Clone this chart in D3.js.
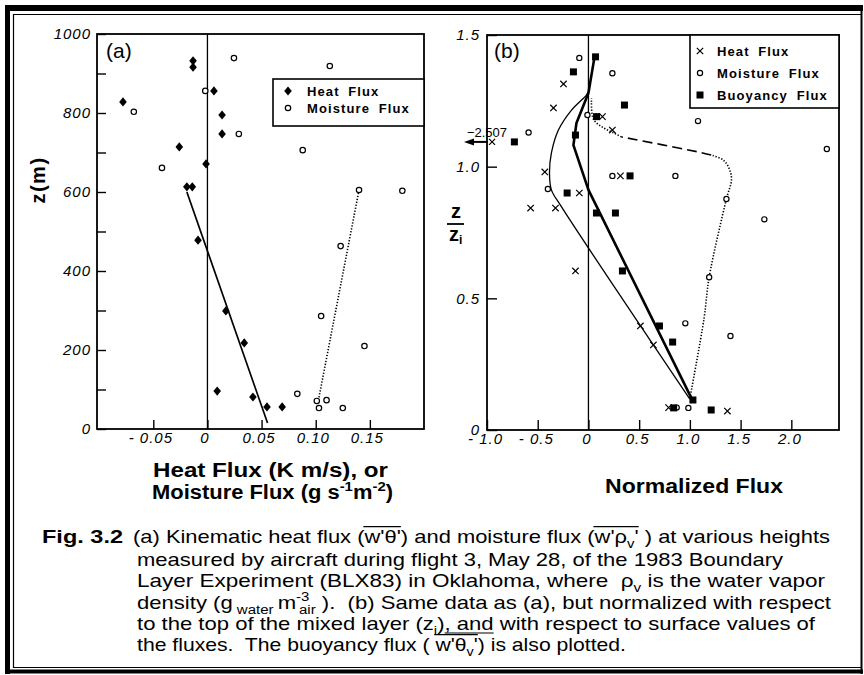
<!DOCTYPE html>
<html><head><meta charset="utf-8">
<script src="https://cdn.jsdelivr.net/npm/d3@7/dist/d3.min.js"></script>
<style>
body{margin:0;background:#fff;}
svg{display:block;font-family:"Liberation Sans",Arial,Helvetica,sans-serif;}
text{white-space:pre;}
</style></head><body>
<svg id="fig" width="864" height="675"></svg>
<script>
// ---- panel (a): raw fluxes vs height z (m)
const heatA = [
  [-0.0133,932],[-0.0133,916],[-0.078,828],[0.006,856],[0.0135,795],[0.0135,747],
  [-0.026,714],[-0.0013,671],[-0.019,613],[-0.014,613],[-0.0087,478],[0.017,299],
  [0.034,218],[0.009,96],[0.042,81],[0.055,56],[0.069,56]
];
const moistA = [
  [0.0245,939],[0.113,919],[-0.002,856],[-0.068,803],[0.029,747],[0.088,706],
  [-0.042,661],[0.14,605],[0.18,603],[0.123,463],[0.105,286],[0.145,210],
  [0.083,89],[0.101,71],[0.103,53],[0.11,73],[0.125,53]
];
const heatFitA  = [[-0.019,600],[0.0555,15]];
const moistFitA = [[0.103,80],[0.14,605]];
const zTicksA   = [0,100,200,300,400,500,600,700,800,900,1000];
const xTicksA   = [-0.05,0,0.05,0.10,0.15];
const xLabelsA  = ["- 0.05","0","0.05","0.10","0.15"];

// ---- panel (b): normalized flux vs z/zi
const heatB = [
  [-0.246,1.314],[-0.345,1.223],[0.138,1.19],[0.236,1.139],[-0.43,0.98],[0.315,0.965],
  [-0.09,0.90],[-0.57,0.843],[-0.325,0.843],[-0.128,0.604],[0.512,0.395],[0.64,0.323],
  [0.79,0.085],[1.37,0.072]
];
const heatOutlierB = {value:-2.507, z:1.094};
const moistB = [
  [-0.09,1.413],[0.236,1.355],[-0.01,1.196],[1.08,1.173],[-0.59,1.13],[2.35,1.067],
  [0.236,0.965],[0.857,0.965],[-0.40,0.915],[1.36,0.877],[1.734,0.80],[1.19,0.58],
  [0.955,0.405],[1.40,0.357],[0.87,0.085],[0.985,0.084]
];
const buoyB = [
  [0.07,1.417],[-0.148,1.36],[0.355,1.234],[0.08,1.19],[-0.128,1.12],[-0.73,1.094],
  [0.41,0.965],[-0.21,0.90],[0.079,0.824],[0.266,0.824],[0.335,0.604],[0.70,0.395],
  [0.83,0.334],[1.03,0.114],[0.84,0.084],[1.21,0.076]
];
const heatCurveB = [
  [1.0,0.117],[-0.27,0.85],[-0.365,0.912],[-0.384,0.976],[-0.365,1.052],
  [-0.296,1.139],[-0.167,1.215],[-0.02,1.272],[0.0,1.285]
];
const buoyCurveB = [
  [1.02,0.117],[0.0,0.912],[-0.148,1.082],[-0.118,1.166],[0.0,1.28],[0.06,1.417]
];
const moistDot1B = [
  [1.0,0.12],[1.14,0.425],[1.19,0.58],[1.36,0.877],[1.41,0.95],[1.39,0.99],[1.33,1.025],[1.21,1.044]
];
const moistDashB = [[1.21,1.044],[1.08,1.056],[0.325,1.113]];
const moistDot2B = [[0.325,1.113],[0.25,1.128],[0.15,1.147],[0.05,1.18],[0.03,1.26]];
const zTicksB   = [0,0.5,1.0,1.5];
const zLabelsB  = ["0","0.5","1.0","1.5"];
const xTicksB   = [-1.0,-0.5,0,0.5,1.0,1.5,2.0];
const xLabelsB  = ["- 1.0","- 0.5","0","0.5","1.0","1.5","2.0"];

const svg = d3.select("#fig");
svg.append("rect").attr("width",864).attr("height",675).attr("fill","#fff");

// outer frame
const frame = svg.append("g").attr("stroke","#000").attr("fill","none");
frame.append("line").attr("x1",7.5).attr("x2",7.5).attr("y1",5).attr("y2",674).attr("stroke-width",5);
frame.append("line").attr("x1",5).attr("x2",863).attr("y1",8).attr("y2",8).attr("stroke-width",6);
frame.append("line").attr("x1",5).attr("x2",863).attr("y1",671.5).attr("y2",671.5).attr("stroke-width",4);
frame.append("line").attr("x1",861.5).attr("x2",861.5).attr("y1",5).attr("y2",674).attr("stroke-width",2);
frame.append("line").attr("x1",13.5).attr("x2",13.5).attr("y1",14).attr("y2",668).attr("stroke-width",1.2);
frame.append("line").attr("x1",13).attr("x2",861).attr("y1",14.5).attr("y2",14.5).attr("stroke-width",1.2);
frame.append("line").attr("x1",13).attr("x2",861).attr("y1",667.5).attr("y2",667.5).attr("stroke-width",1);

function styleTicks(sel, dx){
  sel.select(".domain").remove();
  sel.selectAll(".tick line").attr("stroke","#000").attr("stroke-width",1.4);
  sel.selectAll(".tick text").attr("fill","#000")
    .attr("font-size",15).attr("font-style","italic")
    .attr("font-family","'Liberation Sans',Arial,sans-serif")
    .attr("letter-spacing",1).attr("dx",dx||0);
}

// rich text with sub/sup and overlines
function rich(parent, x, y, segs, size, weight, len){
  const t = parent.append("text").attr("x",x).attr("y",y)
    .attr("font-size",size).attr("font-weight",weight||"normal").attr("fill","#000");
  let cur = 0;
  const spans = [];
  segs.forEach(s => {
    const seg = typeof s === "string" ? {t:s} : s;
    const shift = seg.b==="sub" ? size*0.28 : seg.b==="sup" ? -size*0.4 : 0;
    const ts = t.append("tspan").text(seg.t).attr("dy", shift-cur);
    if(seg.b) ts.attr("font-size", size*0.68);
    if(seg.dx) ts.attr("dx", seg.dx);
    cur = shift;
    spans.push([ts, seg.o]);
  });
  if(len) t.attr("textLength",len).attr("lengthAdjust","spacingAndGlyphs");
  const groups = {};
  spans.forEach(([ts,o]) => {
    if(!o) return;
    const b = ts.node().getBBox();
    if(!groups[o]) groups[o] = [b.x, b.x+b.width];
    else { groups[o][0] = Math.min(groups[o][0],b.x); groups[o][1] = Math.max(groups[o][1],b.x+b.width); }
  });
  Object.values(groups).forEach(([a,b]) => {
    parent.append("line").attr("x1",a).attr("x2",b)
      .attr("y1",y-size*0.86).attr("y2",y-size*0.86)
      .attr("stroke","#000").attr("stroke-width",1.3);
  });
  return t;
}

function diamond(g, pts, x, y){
  g.selectAll(null).data(pts).enter().append("path")
    .attr("d","M0,-4.6L3.8,0L0,4.6L-3.8,0Z")
    .attr("transform",d => "translate("+x(d[0])+","+y(d[1])+")").attr("fill","#000");
}
function circles(g, pts, x, y, r){
  g.selectAll(null).data(pts).enter().append("circle")
    .attr("cx",d=>x(d[0])).attr("cy",d=>y(d[1])).attr("r",r)
    .attr("fill","#fff").attr("stroke","#000").attr("stroke-width",1.2);
}
function squares(g, pts, x, y, s){
  g.selectAll(null).data(pts).enter().append("rect")
    .attr("x",d=>x(d[0])-s/2).attr("y",d=>y(d[1])-s/2).attr("width",s).attr("height",s)
    .attr("fill","#000");
}
function crosses(g, pts, x, y, h){
  g.selectAll(null).data(pts).enter().append("path")
    .attr("d","M"+(-h)+","+(-h)+"L"+h+","+h+"M"+(-h)+","+h+"L"+h+","+(-h))
    .attr("transform",d => "translate("+x(d[0])+","+y(d[1])+")")
    .attr("stroke","#000").attr("stroke-width",1.2).attr("fill","none");
}

// ================= panel (a)
const xA = d3.scaleLinear().domain([-0.102,0.2]).range([97,424]);
const yA = d3.scaleLinear().domain([0,1000]).range([429,34]);
const gA = svg.append("g");

gA.append("g").attr("transform","translate(97,0)")
  .call(d3.axisLeft(yA).tickValues(zTicksA).tickSizeInner(-9).tickSizeOuter(0).tickPadding(6)
    .tickFormat(d => d%200===0 ? d : ""))
  .call(s => styleTicks(s,0));
gA.append("g").attr("transform","translate(0,429)")
  .call(d3.axisBottom(xA).tickValues(xTicksA)
    .tickSizeInner(-9).tickSizeOuter(0).tickPadding(3)
    .tickFormat((d,i) => xLabelsA[i]))
  .call(s => styleTicks(s,-3));

gA.append("rect").attr("x",97).attr("y",34).attr("width",327).attr("height",395)
  .attr("fill","none").attr("stroke","#000").attr("stroke-width",1.8);
gA.append("line").attr("x1",xA(0)).attr("x2",xA(0)).attr("y1",34).attr("y2",429)
  .attr("stroke","#000").attr("stroke-width",1.3);

const lineA = d3.line().x(d=>xA(d[0])).y(d=>yA(d[1]));
gA.append("path").attr("d",lineA(heatFitA)).attr("fill","none").attr("stroke","#000").attr("stroke-width",1.7);
gA.append("path").attr("d",lineA(moistFitA)).attr("fill","none").attr("stroke","#000")
  .attr("stroke-width",1.6).attr("stroke-dasharray","1.3,1.7");

diamond(gA, heatA, xA, yA);
circles(gA, moistA, xA, yA, 2.7);

gA.append("text").attr("x",106).attr("y",58).attr("font-size",21).text("(a)");

// legend (a)
gA.append("rect").attr("x",273).attr("y",79).attr("width",151).attr("height",47)
  .attr("fill","#fff").attr("stroke","#000").attr("stroke-width",1.6);
diamond(gA, [[0,0]], () => 288, () => 91);
circles(gA, [[0,0]], () => 288, () => 108, 2.7);
gA.append("text").attr("x",307).attr("y",96).attr("font-size",13).attr("font-weight","bold")
  .attr("letter-spacing",1.1).attr("word-spacing",4).text("Heat Flux");
gA.append("text").attr("x",307).attr("y",113).attr("font-size",13).attr("font-weight","bold")
  .attr("letter-spacing",1.1).attr("word-spacing",4).text("Moisture Flux");

gA.append("text").attr("transform","translate(45,180) rotate(-90)").attr("text-anchor","middle")
  .attr("font-size",20).attr("font-weight","bold").attr("letter-spacing",1.5).text("z(m)");

rich(svg, 153, 477, ["Heat Flux (K m/s), or"], 19.5, "bold", 235);
rich(svg, 152, 499, ["Moisture Flux (g s",{t:"-1",b:"sup"},"m",{t:"-2",b:"sup"},")"], 19.5, "bold", 241);

// ================= panel (b)
const xB = d3.scaleLinear().domain([-1.0,2.47]).range([487,839]);
const yB = d3.scaleLinear().domain([0,1.5]).range([430,35]);
const gB = svg.append("g");

gB.append("g").attr("transform","translate(487,0)")
  .call(d3.axisLeft(yB).tickValues(zTicksB).tickSizeInner(-10).tickSizeOuter(0).tickPadding(7)
    .tickFormat((d,i) => zLabelsB[i]))
  .call(s => styleTicks(s,0));
gB.append("g").attr("transform","translate(0,430)")
  .call(d3.axisBottom(xB).tickValues(xTicksB).tickSizeInner(-10).tickSizeOuter(0).tickPadding(3)
    .tickFormat((d,i) => xLabelsB[i]))
  .call(s => styleTicks(s,-2));

gB.append("rect").attr("x",487).attr("y",35).attr("width",352).attr("height",395)
  .attr("fill","none").attr("stroke","#000").attr("stroke-width",1.8);
gB.append("line").attr("x1",xB(0)).attr("x2",xB(0)).attr("y1",35).attr("y2",430)
  .attr("stroke","#000").attr("stroke-width",1.3);

const lineB = d3.line().x(d=>xB(d[0])).y(d=>yB(d[1]));
gB.append("path").attr("d",lineB.curve(d3.curveCatmullRom)(heatCurveB)).attr("fill","none")
  .attr("stroke","#000").attr("stroke-width",1.3);
lineB.curve(d3.curveLinear);
gB.append("path").attr("d",lineB(buoyCurveB)).attr("fill","none")
  .attr("stroke","#000").attr("stroke-width",2.6).attr("stroke-linejoin","round");
const lineBc = d3.line().x(d=>xB(d[0])).y(d=>yB(d[1])).curve(d3.curveCatmullRom);
gB.append("path").attr("d",lineBc(moistDot1B)).attr("fill","none").attr("stroke","#000")
  .attr("stroke-width",1.6).attr("stroke-dasharray","1.3,1.7");
gB.append("path").attr("d",lineBc(moistDashB)).attr("fill","none").attr("stroke","#000")
  .attr("stroke-width",1.6).attr("stroke-dasharray","10,5");
gB.append("path").attr("d",lineBc(moistDot2B)).attr("fill","none").attr("stroke","#000")
  .attr("stroke-width",1.6).attr("stroke-dasharray","1.3,1.7");

crosses(gB, heatB, xB, yB, 3.2);
circles(gB, moistB, xB, yB, 2.6);
squares(gB, buoyB, xB, yB, 7);

// off-scale heat flux point
const oy = yB(heatOutlierB.z);
crosses(gB, [[-0.95, heatOutlierB.z]], xB, yB, 3);
gB.append("line").attr("x1",488).attr("x2",472).attr("y1",oy).attr("y2",oy)
  .attr("stroke","#000").attr("stroke-width",2);
gB.append("path").attr("d","M464,"+oy+"L474,"+(oy-3.5)+"L474,"+(oy+3.5)+"Z").attr("fill","#000");
gB.append("text").attr("x",487).attr("y",oy-5).attr("text-anchor","middle").attr("font-size",13)
  .text(d3.format("")(heatOutlierB.value));

gB.append("text").attr("x",494).attr("y",58).attr("font-size",21).text("(b)");

// legend (b)
gB.append("rect").attr("x",690).attr("y",35).attr("width",149).attr("height",73)
  .attr("fill","#fff").attr("stroke","#000").attr("stroke-width",1.6);
crosses(gB, [[0,0]], () => 700, () => 51, 3.2);
circles(gB, [[0,0]], () => 700, () => 73, 2.6);
squares(gB, [[0,0]], () => 700, () => 95, 7);
[["Heat Flux",56],["Moisture Flux",78],["Buoyancy Flux",100]].forEach(([t,y]) => {
  gB.append("text").attr("x",717).attr("y",y).attr("font-size",13).attr("font-weight","bold")
    .attr("letter-spacing",1.1).attr("word-spacing",4).text(t);
});

// z / zi
svg.append("text").attr("x",456).attr("y",218).attr("text-anchor","middle")
  .attr("font-size",20).attr("font-weight","bold").text("z");
svg.append("line").attr("x1",447).attr("x2",464).attr("y1",224).attr("y2",224)
  .attr("stroke","#000").attr("stroke-width",1.8);
svg.append("text").attr("x",449).attr("y",241).attr("font-size",20).attr("font-weight","bold")
  .text("z").append("tspan").attr("font-size",12).attr("dy",3).text("i");

rich(svg, 605, 493, ["Normalized Flux"], 19.5, "bold", 178);

// ================= caption
const cap = svg.append("g");
rich(cap, 42, 543, ["Fig. 3.2"], 19, "bold", 81);
rich(cap, 133, 543, ["(a) Kinematic heat flux (",{t:"w'θ'",o:1},") and moisture flux (",
  {t:"w'ρ",o:2},{t:"v",b:"sub",o:2},{t:"'",o:2}," ) at various heights"], 19, "normal", 697);
rich(cap, 137, 566, ["measured by aircraft during flight 3, May 28, of the 1983 Boundary"], 19, "normal", 646);
rich(cap, 137, 587, ["Layer Experiment (BLX83) in Oklahoma, where  ρ",{t:"v",b:"sub"}," is the water vapor"], 19, "normal", 688);
rich(cap, 137, 609, ["density (g",{t:" water ",b:"sub"},"m",{t:"-3",b:"sup"},{t:"air",b:"sub",dx:-9}," ).  (b) Same data as (a), but normalized with respect"], 19, "normal", 694);
const l5 = rich(cap, 137, 630, ["to the top of the mixed layer (z",{t:"i",b:"sub"},")",{t:", and",o:0}," with respect to surface values of"], 19, "normal", 678);
// underline mark after (zi) as in the scan
const u = l5.selectAll("tspan").nodes()[3].getBBox();
cap.append("line").attr("x1",u.x).attr("x2",u.x+u.width).attr("y1",633).attr("y2",633)
  .attr("stroke","#000").attr("stroke-width",1.2);
rich(cap, 137, 651, ["the fluxes.  The buoyancy flux ( ",{t:"w'θ",o:1},{t:"v",b:"sub",o:1},{t:"'",o:1},") is also plotted."], 19, "normal", 489);
</script>
</body></html>
